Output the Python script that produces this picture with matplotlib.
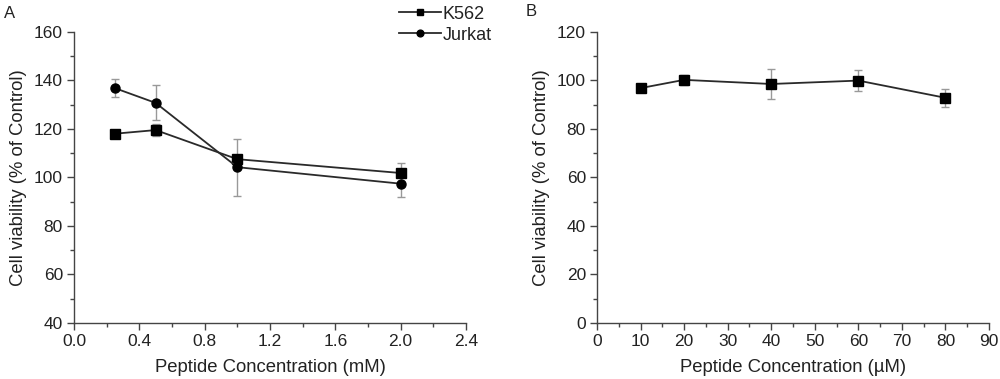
import matplotlib
matplotlib.use("Agg")
import matplotlib.pyplot as plt
from matplotlib.ticker import MultipleLocator

plt.rcParams['font.family'] = ['Liberation Sans', 'DejaVu Sans']

# Panel A data
conc_mM = [0.25, 0.5, 1.0, 2.0]
k562 = [118.0, 119.5, 107.5, 101.8]
k562_err = [1.0, 2.5, 1.5, 4.3]
jurkat = [136.8, 130.7, 104.2, 97.4]
jurkat_err = [3.7, 7.2, 11.8, 5.5]

# Panel B data
conc_uM = [10, 20, 40, 60, 80]
viab_b = [96.8, 100.2, 98.5, 99.9, 92.8]
viab_b_err = [1.0, 2.2, 6.0, 4.2, 3.6]

fig = plt.figure(figsize=(10, 3.79), dpi=100)
axA = fig.add_axes([0.074, 0.148, 0.392, 0.768])
axB = fig.add_axes([0.597, 0.148, 0.392, 0.768])

line_col = '#2a2a2a'
err_col = '#999999'
txt_col = '#222222'
FS_TICK = 12.5
FS_LAB = 13.3

def style(ax):
    for s in ['top', 'right']:
        ax.spines[s].set_visible(False)
    for s in ['left', 'bottom']:
        ax.spines[s].set_color('#444444')
        ax.spines[s].set_linewidth(1.0)
    ax.tick_params(which='major', direction='out', length=5, width=1, color='#444444',
                   labelsize=FS_TICK, labelcolor=txt_col, pad=3)
    ax.tick_params(which='minor', direction='out', length=3, width=1, color='#444444')

handles = []
for y, e, m, lab in [(k562, k562_err, 's', 'K562'), (jurkat, jurkat_err, 'o', 'Jurkat')]:
    axA.errorbar(conc_mM, y, yerr=e, fmt='none', ecolor=err_col, elinewidth=1, capsize=3, capthick=1, zorder=2)
    ln, = axA.plot(conc_mM, y, color=line_col, lw=1.3, marker=m, ms=6.5, mfc='black', mec='black', label=lab, zorder=3)
    handles.append(ln)

axA.set_xlim(0, 2.4)
axA.set_ylim(40, 160)
axA.set_xticks([0, 0.4, 0.8, 1.2, 1.6, 2.0, 2.4])
axA.set_xticklabels(['0.0', '0.4', '0.8', '1.2', '1.6', '2.0', '2.4'])
axA.xaxis.set_minor_locator(MultipleLocator(0.2))
axA.yaxis.set_major_locator(MultipleLocator(20))
axA.yaxis.set_minor_locator(MultipleLocator(10))
axA.set_xlabel('Peptide Concentration (mM)', fontsize=FS_LAB, color=txt_col, labelpad=7)
axA.set_ylabel('Cell viability (% of Control)', fontsize=FS_LAB, color=txt_col, labelpad=5)
style(axA)
leg = fig.legend(handles=handles, loc='upper left', bbox_to_anchor=(0.399, 0.985),
                 bbox_transform=fig.transFigure, frameon=False, fontsize=13,
                 handlelength=2.3, handletextpad=0.1, labelspacing=0.22, borderpad=0,
                 borderaxespad=0, markerscale=0.75)
for t in leg.get_texts():
    t.set_color(txt_col)

axB.errorbar(conc_uM, viab_b, yerr=viab_b_err, fmt='none', ecolor=err_col, elinewidth=1, capsize=3, capthick=1, zorder=2)
axB.plot(conc_uM, viab_b, color=line_col, lw=1.3, marker='s', ms=6.5, mfc='black', mec='black', zorder=3)
axB.set_xlim(0, 90)
axB.set_ylim(0, 120)
axB.xaxis.set_major_locator(MultipleLocator(10))
axB.xaxis.set_minor_locator(MultipleLocator(5))
axB.yaxis.set_major_locator(MultipleLocator(20))
axB.yaxis.set_minor_locator(MultipleLocator(10))
axB.set_xlabel('Peptide Concentration (\u00b5M)', fontsize=FS_LAB, color=txt_col, labelpad=7)
axB.set_ylabel('Cell viability (% of Control)', fontsize=FS_LAB, color=txt_col, labelpad=5)
style(axB)

fig.text(0.004, 0.985, 'A', fontsize=12, color=txt_col, va='top', ha='left')
fig.text(0.526, 0.99, 'B', fontsize=12, color=txt_col, va='top', ha='left')

fig.savefig('out.png', dpi=100)
